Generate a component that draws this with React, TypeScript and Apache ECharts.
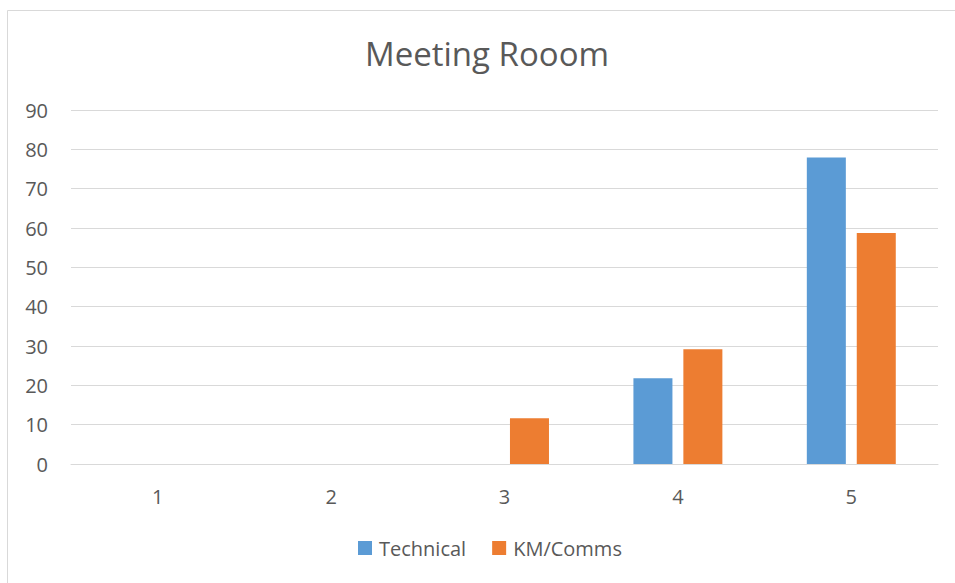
import React, { useEffect, useRef } from "react";
import * as echarts from "echarts";

const categories = ["1", "2", "3", "4", "5"];
const technical = [0, 0, 0, 21.8, 77.9];
const kmComms = [0, 0, 11.6, 29.2, 58.7];
const yTicks = { min: 0, max: 90, interval: 10 };

const FONT = "'Open Sans', 'Noto Sans', sans-serif";
const TEXT = "#595959";

export default function App() {
  const ref = useRef<HTMLDivElement>(null);

  useEffect(() => {
    if (!ref.current) return;
    const chart = echarts.init(ref.current, null, { renderer: "svg" });
    chart.setOption({
      animation: false,
      backgroundColor: "#ffffff",
      title: {
        text: "Meeting Rooom",
        left: 360,
        top: 32,
        textStyle: { fontFamily: FONT, fontSize: 33, fontWeight: "normal", color: TEXT },
      },
      graphic: [
        {
          type: "rect",
          shape: { x: 7.5, y: 10.5, width: 1000, height: 700 },
          style: { fill: "none", stroke: "#d9d9d9", lineWidth: 1 },
          silent: true,
        },
      ],
      grid: { left: 71, right: 17, top: 110, bottom: 119 },
      legend: {
        top: 533,
        left: 353,
        itemWidth: 14,
        itemHeight: 14,
        itemGap: 26,
        icon: "rect",
        textStyle: { fontFamily: FONT, fontSize: 20, color: TEXT, padding: [0, 0, 0, 2] },
        data: ["Technical", "KM/Comms"],
      },
      xAxis: {
        type: "category",
        data: categories,
        axisLine: { show: true, lineStyle: { color: "#d9d9d9", width: 1 } },
        axisTick: { show: false },
        axisLabel: { fontFamily: FONT, fontSize: 20, color: TEXT, margin: 22 },
      },
      yAxis: {
        type: "value",
        min: yTicks.min,
        max: yTicks.max,
        interval: yTicks.interval,
        axisLine: { show: false },
        axisTick: { show: false },
        splitLine: { lineStyle: { color: "#d9d9d9", width: 1 } },
        axisLabel: { fontFamily: FONT, fontSize: 20, color: TEXT, margin: 23 },
      },
      series: [
        {
          name: "Technical",
          type: "bar",
          data: technical,
          barWidth: "22.5%",
          barGap: "28%",
          itemStyle: { color: "#5b9bd5" },
        },
        {
          name: "KM/Comms",
          type: "bar",
          data: kmComms,
          barWidth: "22.5%",
          itemStyle: { color: "#ed7d31" },
        },
      ],
    });
    return () => chart.dispose();
  }, []);

  return (
    <div
      ref={ref}
      style={{ position: "absolute", left: 0, top: 0, width: 955, height: 583 }}
    />
  );
}
